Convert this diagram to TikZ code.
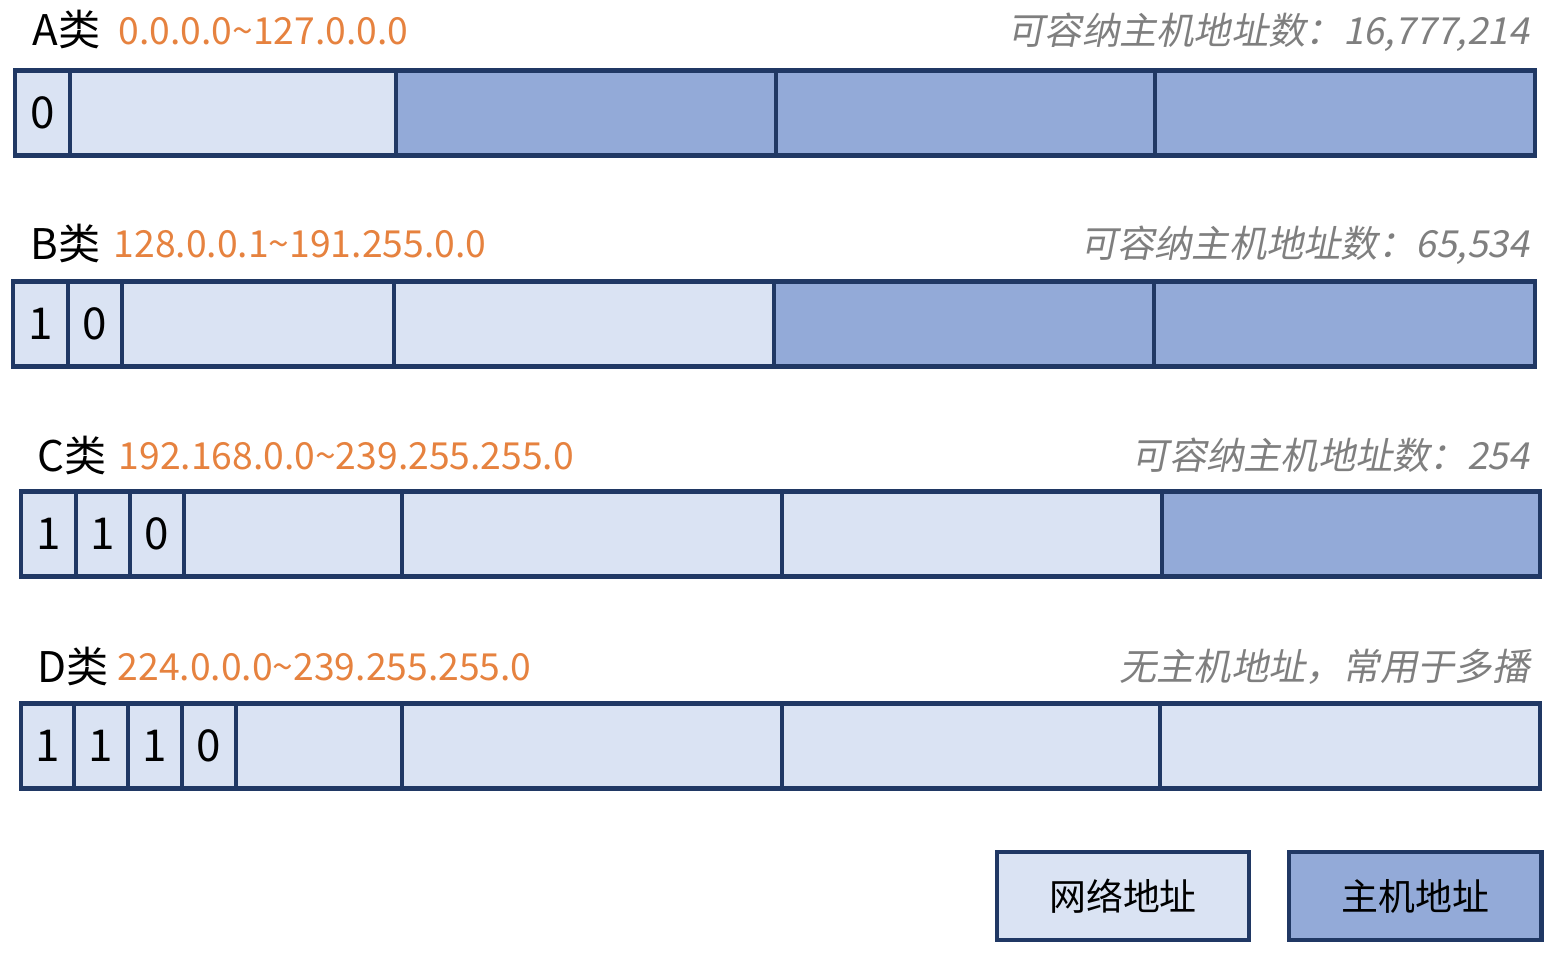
\documentclass[tikz,border=0pt]{standalone}
\usepackage{fontspec}
\setmainfont{Noto Sans CJK SC}
\newfontfamily\notefont{Noto Sans CJK SC}[FakeSlant=0.2]
\usepackage{tikz}
\usetikzlibrary{positioning}
\definecolor{netfill}{HTML}{DAE3F3}
\definecolor{hostfill}{HTML}{93AAD8}
\definecolor{edgeblue}{HTML}{203864}
\definecolor{rangeorange}{HTML}{E6823F}
\definecolor{notegray}{HTML}{7F7F7F}

\begin{document}
\begin{tikzpicture}[x=0.01cm, y=-0.01cm, font=\fontsize{10.6}{13}\selectfont,
    cell/.style={draw=edgeblue, line width=1.2pt, inner sep=0pt, minimum height=0.85cm,
        font=\fontsize{12.5}{15}\selectfont},
    net/.style={cell, fill=netfill},
    host/.style={cell, fill=hostfill},
    classname/.style={anchor=base west, inner sep=0pt, font=\fontsize{12}{14}\selectfont},
    iprange/.style={anchor=base west, inner sep=0pt, text=rangeorange},
    hostnote/.style={anchor=base east, inner sep=0pt, text=notegray, font=\fontsize{10.6}{13}\selectfont\notefont}]
    \useasboundingbox (0,0) rectangle (1568,958);

    \node[classname] (na) at (32,46) {A类};
    \node[iprange] (ra) at (118,45) {0.0.0.0\textasciitilde127.0.0.0};
    \node[hostnote] (ha) at (1530,45) {可容纳主机地址数：16,777,214};
    \foreach \n/\a/\b/\s/\t in {1/15/70/net/0, 2/70/396/net/, 3/396/776/host/, 4/776/1155/host/, 5/1155/1535/host/}
        \node[\s, minimum width={(\b-\a)*0.2845pt}] (a\n) at ({(\a+\b)/2},113) {\t};

    \node[classname] (nb) at (30,260) {B类};
    \node[iprange] (rb) at (113,258) {128.0.0.1\textasciitilde191.255.0.0};
    \node[hostnote] (hb) at (1530,258) {可容纳主机地址数：65,534};
    \foreach \n/\a/\b/\s/\t in {1/13/68/net/1, 2/68/122/net/0, 3/122/394/net/, 4/394/774/net/, 5/774/1154/host/, 6/1154/1535/host/}
        \node[\s, minimum width={(\b-\a)*0.2845pt}] (b\n) at ({(\a+\b)/2},324) {\t};

    \node[classname] (nc) at (37,472) {C类};
    \node[iprange] (rc) at (118,470) {192.168.0.0\textasciitilde239.255.255.0};
    \node[hostnote] (hc) at (1530,470) {可容纳主机地址数：254};
    \foreach \n/\a/\b/\s/\t in {1/21/76/net/1, 2/76/130/net/1, 3/130/184/net/0, 4/184/402/net/, 5/402/782/net/, 6/782/1162/net/, 7/1162/1540/host/}
        \node[\s, minimum width={(\b-\a)*0.2845pt}] (c\n) at ({(\a+\b)/2},534) {\t};

    \node[classname] (nd) at (37,683) {D类};
    \node[iprange] (rd) at (117,681) {224.0.0.0\textasciitilde239.255.255.0};
    \node[hostnote] (hd) at (1530,681) {无主机地址，常用于多播};
    \foreach \n/\a/\b/\s/\t in {1/21/74/net/1, 2/74/128/net/1, 3/128/182/net/1, 4/182/236/net/0, 5/236/402/net/, 6/402/782/net/, 7/782/1160/net/, 8/1160/1540/net/}
        \node[\s, minimum width={(\b-\a)*0.2845pt}] (d\n) at ({(\a+\b)/2},746) {\t};

    \node[net, minimum width=2.52cm, minimum height=0.88cm, font=\fontsize{10.5}{13}\selectfont] (lnet) at (1123,896) {网络地址};
    \node[host, minimum width=2.52cm, minimum height=0.88cm, font=\fontsize{10.5}{13}\selectfont, right=0.36cm of lnet] (lhost) {主机地址};
\end{tikzpicture}
\end{document}
